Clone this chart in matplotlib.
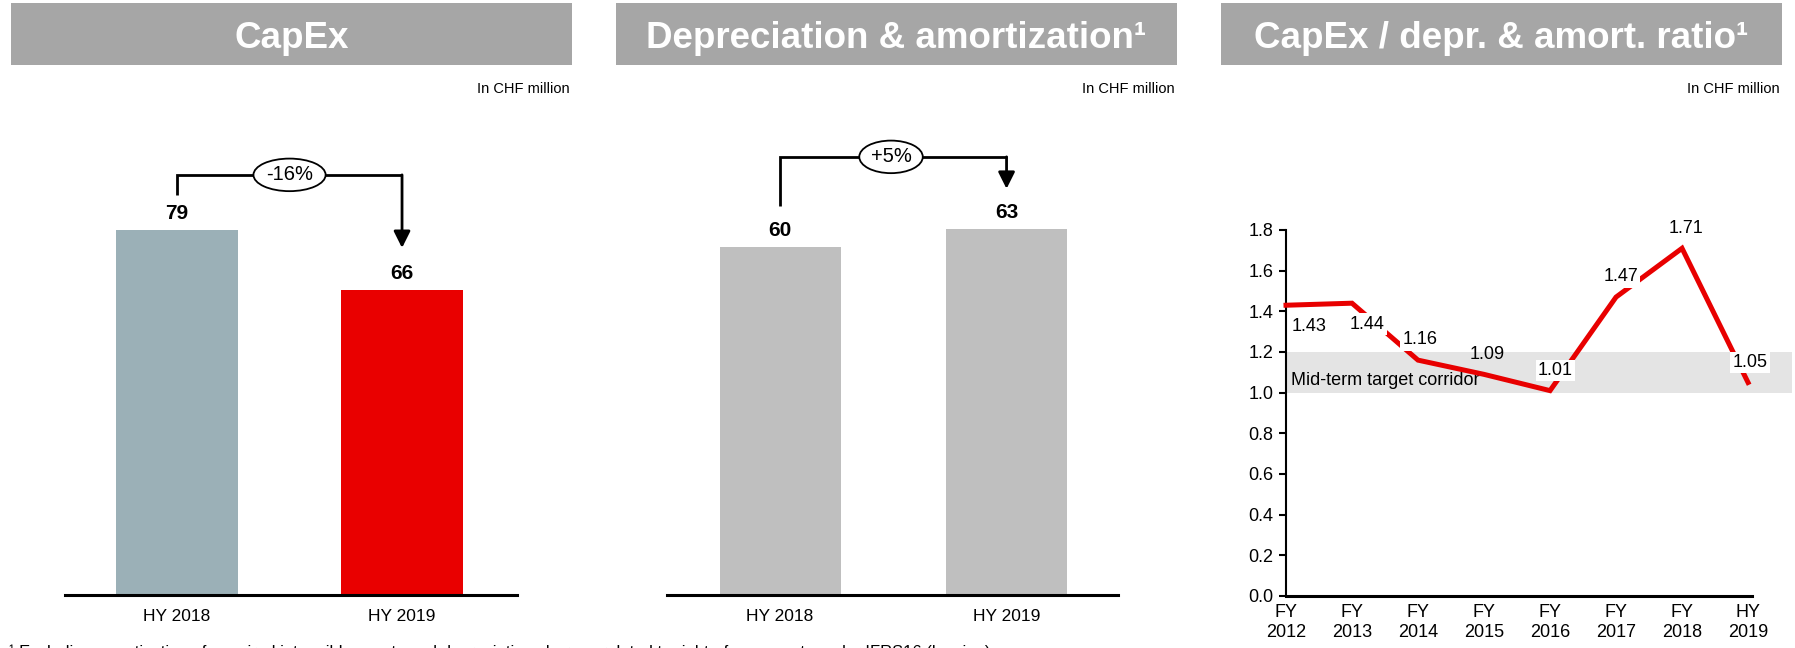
import matplotlib
matplotlib.use('Agg')
import matplotlib.pyplot as plt
from matplotlib.patches import Rectangle

plt.rcParams['font.family'] = ['Liberation Sans', 'DejaVu Sans']

W, H, DPI = 1795, 648, 100

# ---------------- data ----------------
capex_categories = ['HY 2018', 'HY 2019']
capex_values = [79, 66]
capex_change = '-16%'

da_categories = ['HY 2018', 'HY 2019']
da_values = [60, 63]
da_change = '+5%'

ratio_categories = ['FY\n2012', 'FY\n2013', 'FY\n2014', 'FY\n2015',
                    'FY\n2016', 'FY\n2017', 'FY\n2018', 'HY\n2019']
ratio_values = [1.43, 1.44, 1.16, 1.09, 1.01, 1.47, 1.71, 1.05]
ratio_yticks = [0.0, 0.2, 0.4, 0.6, 0.8, 1.0, 1.2, 1.4, 1.6, 1.8]
corridor_low, corridor_high = 1.0, 1.2
corridor_label = 'Mid-term target corridor'

titles = ['CapEx', 'Depreciation & amortization\u00b9', 'CapEx / depr. & amort. ratio\u00b9']
unit_label = 'In CHF million'
footnote = ('\u00b9 Excluding amortization of acquired intangible assets and depreciation '
            'charges related to right-of-use assets under IFRS16 (leasing)')

# ---------------- styles ----------------
HEADER_GRAY = '#A6A6A6'
CAPEX_COLORS = ['#9BB0B7', '#E90000']
DA_COLORS = ['#BFBFBF', '#BFBFBF']
RED = '#E80000'
BAND = '#E4E4E4'

fig = plt.figure(figsize=(W / DPI, H / DPI), dpi=DPI)


def rect(x0, y0, x1, y1):
    return [x0 / W, 1 - y1 / H, (x1 - x0) / W, (y1 - y0) / H]


# headers
header_spans = [(11, 572), (616, 1177), (1221, 1782)]
for (x0, x1), title in zip(header_spans, titles):
    fig.add_artist(Rectangle((x0 / W, 1 - 65 / H), (x1 - x0) / W, 62 / H,
                             transform=fig.transFigure, color=HEADER_GRAY, lw=0))
    fig.text((x0 + x1) / 2 / W, 1 - 38 / H, title, ha='center', va='center',
             color='white', fontsize=26.5, fontweight='bold')
    fig.text(x1 / W - 2 / W, 1 - 89 / H, unit_label, ha='right', va='center',
             fontsize=10.5)


def bar_panel(box, cats, vals, colors, ymax, xlim, width, change,
              y_start, y_top, y_tip, ex):
    ax = fig.add_axes(rect(*box))
    x = list(range(len(cats)))
    ax.bar(x, vals, width=width, color=colors, zorder=2)
    ax.set_xlim(*xlim)
    ax.set_ylim(0, ymax)
    for s in ['top', 'right', 'left']:
        ax.spines[s].set_visible(False)
    ax.spines['bottom'].set_linewidth(2.2)
    ax.set_yticks([])
    ax.set_xticks(x)
    ax.set_xticklabels(cats, fontsize=12.5)
    ax.tick_params(axis='x', length=0, pad=10)
    ax.patch.set_visible(False)
    for xi, v in zip(x, vals):
        ax.annotate(str(v), (xi, v), xytext=(0, 12), textcoords='offset points',
                    ha='center', va='center', fontsize=15, fontweight='bold')
    ax.plot([0, 0, 1], [y_start, y_top, y_top], color='black', lw=2,
            clip_on=False, solid_joinstyle='miter', solid_capstyle='butt')
    ax.annotate('', xy=(1, y_tip), xytext=(1, y_top),
                arrowprops=dict(arrowstyle='-|>,head_length=0.5,head_width=0.25',
                                lw=2, color='black', shrinkA=0, shrinkB=0,
                                mutation_scale=20))
    ax.text(ex, y_top, change, ha='center', va='center', fontsize=14.5, zorder=5,
            bbox=dict(boxstyle='ellipse,pad=0.1', fc='white', ec='black', lw=1.3))
    return ax


bar_panel((65, 100, 517, 595), capex_categories, capex_values, CAPEX_COLORS,
          107.1, (-0.498, 1.511), 0.54, capex_change, 86.6, 90.9, 75.1, 0.5)
bar_panel((667, 100, 1118, 595), da_categories, da_values, DA_COLORS,
          85.3, (-0.499, 1.492), 0.534, da_change, 67.1, 75.5, 70.0, 0.49)

# ratio line chart
ax3 = fig.add_axes(rect(1286, 230, 1752, 596))
xs = list(range(len(ratio_values)))
ax3.set_xlim(0, 7.06)
ax3.set_ylim(0, 1.8)
ax3.add_patch(Rectangle((0, corridor_low), 7.67, corridor_high - corridor_low,
                        color=BAND, lw=0, clip_on=False, zorder=0))
ax3.text(0.08, 1.06, corridor_label, ha='left', va='center', fontsize=13, zorder=1)
ax3.plot(xs, ratio_values, color=RED, lw=3.6, zorder=3, clip_on=False,
         solid_joinstyle='miter')
label_offsets = [(16.5, -15), (11, -15), (1.5, 14.5), (2, 14.5),
                 (4, 14.5), (3.5, 14.5), (3, 14.5), (1.5, 14.5)]
label_boxed = [True, True, True, False, True, True, True, True]
for xi, v, (dx, dy), boxed in zip(xs, ratio_values, label_offsets, label_boxed):
    kw = {}
    if boxed:
        kw['bbox'] = dict(boxstyle='square,pad=0.12', fc='white', ec='none')
    ax3.annotate(f'{v:.2f}', (xi, v), xytext=(dx, dy), textcoords='offset points',
                 ha='center', va='center', fontsize=13, zorder=4, **kw)
ax3.set_yticks(ratio_yticks)
ax3.set_yticklabels([f'{t:.1f}' for t in ratio_yticks], fontsize=13)
ax3.set_xticks(xs)
ax3.set_xticklabels(ratio_categories, fontsize=13, linespacing=1.2)
ax3.tick_params(axis='x', length=0, pad=6)
ax3.tick_params(axis='y', length=5, width=1.5, pad=4)
for s in ['top', 'right']:
    ax3.spines[s].set_visible(False)
ax3.spines['left'].set_linewidth(1.5)
ax3.spines['bottom'].set_linewidth(2.2)
ax3.patch.set_visible(False)

fig.text(9 / W, 1 - 657 / H, footnote, ha='left', va='baseline', fontsize=12)

fig.savefig('out.png', dpi=DPI)
